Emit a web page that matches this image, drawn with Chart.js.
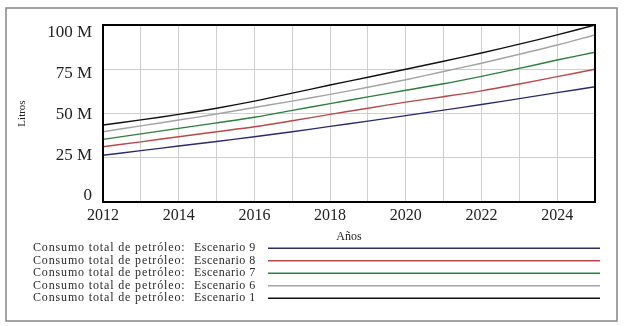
<!DOCTYPE html>
<html><head><meta charset="utf-8">
<script src="https://cdn.jsdelivr.net/npm/chart.js@4.4.0/dist/chart.umd.min.js"></script>
<style>html,body{margin:0;padding:0;background:#fff}#wrap{width:624px;height:326px}</style>
</head><body><div id="wrap"><canvas id="c" width="624" height="326"></canvas></div>
<script>
const years = [2012,2013,2014,2015,2016,2017,2018,2019,2020,2021,2022,2023,2024,2025];
const esc9 = [26.4,29.0,31.6,34.2,36.9,39.7,42.7,45.7,48.8,51.9,55.1,58.4,61.8,65.1];
const esc8 = [31.2,34.0,36.9,39.7,42.5,45.9,49.5,53.0,56.4,59.5,62.8,66.7,70.8,75.0];
const esc7 = [35.4,38.5,41.6,44.7,47.9,51.8,55.6,59.4,63.1,66.8,71.0,75.5,80.2,84.6];
const esc6 = [39.7,43.0,46.3,49.7,53.4,57.0,60.8,64.8,69.1,73.7,78.4,83.5,88.7,94.4];
const esc1 = [43.5,46.4,49.5,53.0,57.0,61.5,66.1,70.5,75.0,79.5,84.2,89.2,94.4,100.0];
const seriesLabels = ["Escenario 9","Escenario 8","Escenario 7","Escenario 6","Escenario 1"];
const seriesPrefix = "Consumo total de petróleo:";
const yTicks = [0,25,50,75,100];
const xTickLabels = [2012,2014,2016,2018,2020,2022,2024];
const colors = ["#2b2b6b","#b84848","#2f7d3c","#a3a3a3","#111111"];
const allSeries = [esc9,esc8,esc7,esc6,esc1];

const datasets = allSeries.map((s,i)=>({
  label: seriesPrefix+" "+seriesLabels[i],
  data: years.map((y,k)=>({x:y,y:s[k]*1e6})),
  borderColor: colors[i], borderWidth: 1.4, pointRadius:0, tension:0.3, fill:false
}));

const frame = {
  id:'frame',
  beforeDraw(chart){
    const ctx=chart.ctx; ctx.save();
    ctx.fillStyle='#fff'; ctx.fillRect(0,0,chart.width,chart.height);
    ctx.strokeStyle='#858585'; ctx.lineWidth=1.5;
    ctx.strokeRect(6,8,611,313);
    ctx.restore();
  },
  afterDatasetsDraw(chart){
    const a=chart.chartArea, ctx=chart.ctx; ctx.save();
    ctx.strokeStyle='#000'; ctx.lineWidth=2;
    ctx.strokeRect(a.left,a.top,a.right-a.left,a.bottom-a.top);
    // legend
    ctx.font='12px "Liberation Serif"';
    ctx.textBaseline='middle';
    ctx.fillStyle='#2a2a2a';
    const y0=248.3, dy=12.5;
    chart.data.datasets.forEach((d,i)=>{
      const y=y0+i*dy;
      ctx.letterSpacing='0.85px';
      ctx.fillText(seriesPrefix,33,y);
      ctx.letterSpacing='0.5px';
      ctx.fillText(seriesLabels[i],194,y);
      ctx.letterSpacing='0px';
      ctx.strokeStyle=d.borderColor; ctx.lineWidth=1.5;
      ctx.beginPath(); ctx.moveTo(268,y); ctx.lineTo(600,y); ctx.stroke();
    });
    ctx.restore();
  }
};

new Chart(document.getElementById('c'),{
  type:'line',
  data:{datasets},
  plugins:[frame],
  options:{
    responsive:false, animation:false,
    layout:{padding:{left:16,top:25,right:29,bottom:80}},
    plugins:{legend:{display:false},tooltip:{enabled:false}},
    scales:{
      x:{type:'linear',min:2012,max:2025,
        afterFit(s){s.height=44;},
        afterBuildTicks(s){s.ticks=years.map(v=>({value:v}));},
        ticks:{autoSkip:false,maxRotation:0,padding:4,color:'#222',
          font:{family:'Liberation Serif',size:16},
          callback:(v)=>xTickLabels.includes(v)?String(v):''},
        grid:{color:'#cfcfcf',lineWidth:1,tickLength:0},
        border:{display:false},
        title:{display:true,text:'Años',color:'#222',font:{family:'Liberation Serif',size:12},padding:{top:2,bottom:2}}
      },
      y:{min:0,max:100e6,position:'left',
        afterFit(s){s.width=0;},
        afterBuildTicks(s){s.ticks=yTicks.map(v=>({value:v*1e6}));},
        ticks:{display:false},
        grid:{color:'#cfcfcf',lineWidth:1,tickLength:0},
        border:{display:false}
      },
      yl:{min:-3.68e6,max:104.9e6,position:'left',
        afterFit(s){s.width=87;},
        afterBuildTicks(s){s.ticks=yTicks.map(v=>({value:v*1e6}));},
        ticks:{padding:11,color:'#222',font:{family:'Liberation Serif',size:17},
          callback:(v)=>v===0?'0':(v/1e6)+' M'},
        grid:{display:false,tickLength:0},
        border:{display:false},
        title:{display:true,text:'Litros',color:'#222',font:{family:'Liberation Serif',size:11},padding:0}
      }
    }
  }
});
</script></body></html>
